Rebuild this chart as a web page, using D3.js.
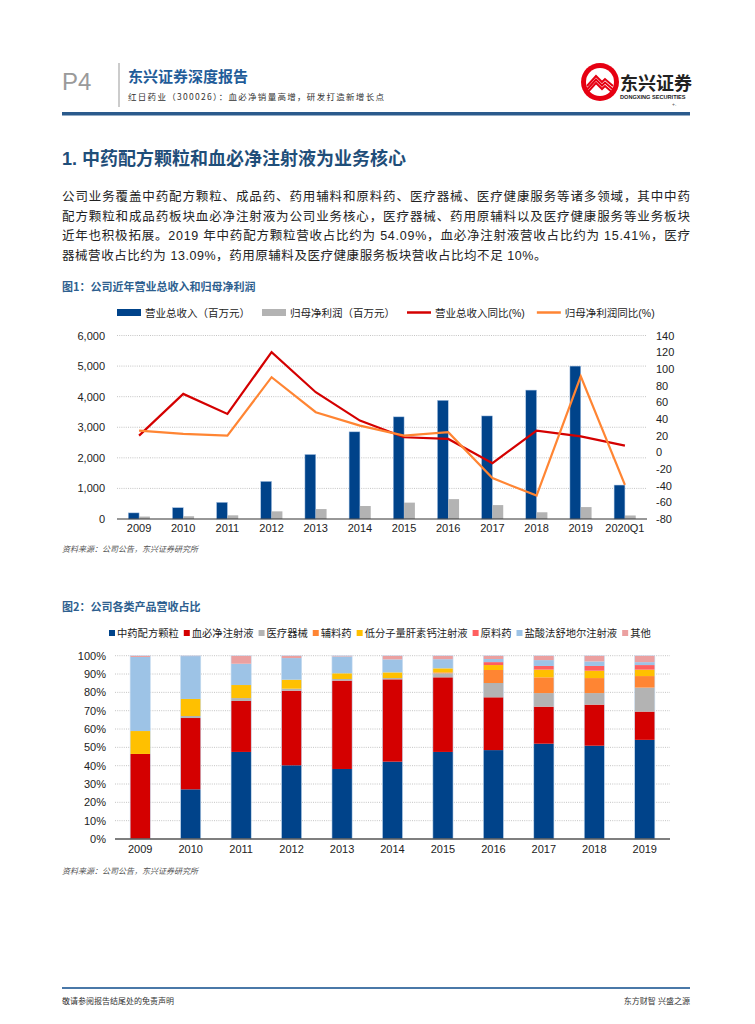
<!DOCTYPE html>
<html>
<head>
<meta charset="utf-8">
<script src="https://cdn.jsdelivr.net/npm/d3@7"></script>
<style>
  body { margin: 0; background: #fff; }
  svg { display: block; font-family: "Liberation Sans", "Noto Sans CJK SC", sans-serif; }
</style>
</head>
<body>
<div id="page"></div>
<script>
// Chart 1 data
const years1 = ['2009', '2010', '2011', '2012', '2013', '2014', '2015', '2016', '2017', '2018', '2019', '2020Q1'];
const revenue = [200, 370, 545, 1230, 2110, 2850, 3340, 3880, 3370, 4215, 5000, 1110];
const profit = [80, 90, 120, 250, 325, 425, 535, 650, 455, 220, 390, 115];
const revenueYoY = [20, 70, 46, 120, 72, 38, 18, 16, -13, 26, 19, 8];
const profitYoY = [26, 22, 20, 90, 48, 32, 20, 24, -31, -52, 91, -39];
const leftTicks = [0, 1000, 2000, 3000, 4000, 5000, 6000];
const rightTicks = [-80, -60, -40, -20, 0, 20, 40, 60, 80, 100, 120, 140];

// Chart 2 data (share of revenue, %)
const years2 = ['2009', '2010', '2011', '2012', '2013', '2014', '2015', '2016', '2017', '2018', '2019'];
const productNames = ['中药配方颗粒', '血必净注射液', '医疗器械', '辅料药', '低分子量肝素钙注射液', '原料药', '盐酸法舒地尔注射液', '其他'];
const tcmGranule = [0, 27.1, 47.5, 40.2, 38.2, 42.2, 47.5, 48.5, 52.0, 50.9, 54.09];
const xuebijing = [46.4, 38.9, 27.8, 40.7, 48.2, 44.9, 40.7, 28.8, 20.2, 22.4, 15.41];
const devices = [0, 1.1, 1.6, 1.1, 0.9, 0.7, 2.2, 7.8, 7.4, 6.3, 13.09];
const excipient = [0, 0, 0, 0, 0, 0, 0.5, 7.1, 8.6, 8.2, 6.3];
const heparin = [12.5, 9.3, 7.1, 4.9, 3.1, 3.1, 2.2, 2.7, 4.2, 4.0, 3.5];
const apiDrug = [0, 0, 0, 0, 0, 0, 0, 1.6, 2.0, 2.6, 2.5];
const fasudil = [40.4, 23.4, 11.6, 11.8, 9.2, 7.1, 5.0, 1.7, 3.2, 2.5, 1.6];
const others = [0.7, 0.2, 4.4, 1.3, 0.4, 2.0, 1.9, 1.8, 2.4, 3.1, 3.51];
const pctTicks = [0, 10, 20, 30, 40, 50, 60, 70, 80, 90, 100];

const paraLines = [
  '公司业务覆盖中药配方颗粒、成品药、药用辅料和原料药、医疗器械、医疗健康服务等诸多领域，其中中药',
  '配方颗粒和成品药板块血必净注射液为公司业务核心，医疗器械、药用原辅料以及医疗健康服务等业务板块',
  '近年也积极拓展。2019 年中药配方颗粒营收占比约为 54.09%，血必净注射液营收占比约为 15.41%，医疗',
  '器械营收占比约为 13.09%，药用原辅料及医疗健康服务板块营收占比均不足 10%。'
];

const W = 755, H = 1024;
const navy = '#1f4e79';
const svg = d3.select('#page').append('svg').attr('width', W).attr('height', H);

// ---------- Header ----------
svg.append('text').attr('x', 62).attr('y', 90).attr('font-size', 24)
  .attr('fill', '#9a9a9a').text('P4');
svg.append('line').attr('x1', 119).attr('x2', 119).attr('y1', 63).attr('y2', 107)
  .attr('stroke', '#999').attr('stroke-width', 1);
svg.append('text').attr('x', 128).attr('y', 82).attr('font-size', 15).attr('font-weight', 'bold')
  .attr('fill', '#1f5c99').attr('font-family', 'Noto Sans CJK SC').text('东兴证券深度报告');
svg.append('text').attr('x', 128).attr('y', 100).attr('font-size', 8.5).attr('fill', '#333')
  .attr('letter-spacing', 1.3)
  .attr('font-family', 'Noto Sans CJK SC').text('红日药业（300026）：血必净销量高增，研发打造新增长点');

// logo
const logo = svg.append('g').attr('transform', 'translate(600,82)');
logo.append('circle').attr('r', 19).attr('fill', '#e60012');
logo.append('circle').attr('r', 14).attr('fill', '#fff');
[0, 3.5, 7].forEach(off => {
  logo.append('path')
    .attr('d', `M-13,${4 + off} L-4,${-6 + off} L2,${0 + off} L5,${-3 + off} L13,${4 + off}`)
    .attr('fill', 'none').attr('stroke', '#e60012').attr('stroke-width', 2);
});
svg.append('text').attr('x', 620).attr('y', 90).attr('font-size', 18).attr('font-weight', 'bold')
  .attr('fill', '#222').attr('font-family', 'Noto Sans CJK SC').text('东兴证券');
svg.append('text').attr('x', 620).attr('y', 99).attr('font-size', 5.6).attr('font-weight', 'bold')
  .attr('fill', '#222').text('DONGXING SECURITIES');
svg.append('text').attr('x', 672).attr('y', 106).attr('font-size', 5).attr('fill', '#555').text('+.');

svg.append('rect').attr('x', 62).attr('y', 112).attr('width', 628).attr('height', 3.5).attr('fill', '#2a5a8c');

// ---------- Heading and paragraph ----------
svg.append('text').attr('x', 62).attr('y', 165).attr('font-size', 18).attr('font-weight', 'bold')
  .attr('fill', navy).text('1. 中药配方颗粒和血必净注射液为业务核心');

paraLines.forEach((line, i) => {
  const t = svg.append('text').attr('x', 62).attr('y', 201 + i * 19.6)
    .attr('font-size', 12.5).attr('fill', '#222').text(line);
  if (i < paraLines.length - 1) t.attr('textLength', 628).attr('lengthAdjust', 'spacing');
  else t.attr('letter-spacing', 0.55);
});

// ---------- Chart 1 ----------
svg.append('text').attr('x', 62).attr('y', 291).attr('font-size', 11).attr('font-weight', 'bold')
  .attr('fill', '#2e5f8f').attr('font-family', 'Noto Sans CJK SC').text('图1：公司近年营业总收入和归母净利润');

const c1 = { left: 117, right: 647, top: 335.5, bottom: 519 };
const x1 = d3.scaleBand().domain(years1).range([c1.left, c1.right]);
const yL = d3.scaleLinear().domain([0, 6000]).range([c1.bottom, c1.top]);
const yR = d3.scaleLinear().domain([-80, 140]).range([c1.bottom, c1.top]);
const g1 = svg.append('g');

// grid
g1.selectAll('.grid1').data(leftTicks.filter(d => d > 0)).enter().append('line')
  .attr('x1', c1.left).attr('x2', c1.right)
  .attr('y1', d => yL(d)).attr('y2', d => yL(d))
  .attr('stroke', '#b5b5b5').attr('stroke-width', 0.8).attr('stroke-dasharray', '1,1.2');

// left axis labels
g1.selectAll('.ly').data(leftTicks).enter().append('text')
  .attr('x', 105).attr('y', d => yL(d) + 4).attr('text-anchor', 'end')
  .attr('font-size', 11).attr('fill', '#222').text(d => d3.format(',')(d));
// right axis labels
g1.selectAll('.ry').data(rightTicks).enter().append('text')
  .attr('x', 656).attr('y', d => yR(d) + 4)
  .attr('font-size', 11).attr('fill', '#222').text(d => d);

const bw = x1.bandwidth() * 0.245;
g1.selectAll('.rev').data(revenue).enter().append('rect')
  .attr('x', (d, i) => x1(years1[i]) + x1.bandwidth() / 2 - bw)
  .attr('y', d => yL(d)).attr('width', bw).attr('height', d => yL(0) - yL(d))
  .attr('fill', '#00438a').attr('stroke', '#a9c4e4').attr('stroke-width', 0.5);
g1.selectAll('.prof').data(profit).enter().append('rect')
  .attr('x', (d, i) => x1(years1[i]) + x1.bandwidth() / 2)
  .attr('y', d => yL(d)).attr('width', bw).attr('height', d => yL(0) - yL(d))
  .attr('fill', '#b3b3b3');

// baseline
g1.append('line').attr('x1', c1.left).attr('x2', c1.right).attr('y1', yL(0)).attr('y2', yL(0))
  .attr('stroke', '#333').attr('stroke-width', 1.2);

// x labels
g1.selectAll('.xl').data(years1).enter().append('text')
  .attr('x', d => x1(d) + x1.bandwidth() / 2).attr('y', 532).attr('text-anchor', 'middle')
  .attr('font-size', 11).attr('fill', '#222').text(d => d);

const line1 = d3.line().x((d, i) => x1(years1[i]) + x1.bandwidth() / 2).y(d => yR(d));
g1.append('path').datum(revenueYoY).attr('d', line1).attr('fill', 'none')
  .attr('stroke', '#d40000').attr('stroke-width', 2.2);
g1.append('path').datum(profitYoY).attr('d', line1).attr('fill', 'none')
  .attr('stroke', '#ff8533').attr('stroke-width', 2.2);

// legend 1
const legend1 = [
  { name: '营业总收入（百万元）', color: '#00438a', type: 'rect' },
  { name: '归母净利润（百万元）', color: '#b3b3b3', type: 'rect' },
  { name: '营业总收入同比(%)', color: '#d40000', type: 'line' },
  { name: '归母净利润同比(%)', color: '#ff8533', type: 'line' }
];
let lx = 117;
legend1.forEach(item => {
  if (item.type === 'rect') {
    svg.append('rect').attr('x', lx).attr('y', 309).attr('width', 24).attr('height', 7).attr('fill', item.color);
  } else {
    svg.append('line').attr('x1', lx).attr('x2', lx + 24).attr('y1', 312.5).attr('y2', 312.5)
      .attr('stroke', item.color).attr('stroke-width', 2.5);
  }
  const t = svg.append('text').attr('x', lx + 28).attr('y', 316.5).attr('font-size', 10.5)
    .attr('fill', '#222').text(item.name);
  lx += 28 + t.node().getComputedTextLength() + 12;
});

svg.append('text').attr('x', 62).attr('y', 552).attr('font-size', 8).attr('font-style', 'italic')
  .attr('fill', '#555').text('资料来源：公司公告，东兴证券研究所');

// ---------- Chart 2 ----------
svg.append('text').attr('x', 62).attr('y', 611).attr('font-size', 11).attr('font-weight', 'bold')
  .attr('fill', '#2e5f8f').attr('font-family', 'Noto Sans CJK SC').text('图2：公司各类产品营收占比');

const productColors = ['#00438a', '#d40000', '#b3b3b3', '#ff8533', '#ffc000', '#ff5f5f', '#9dc3e6', '#eba0a0'];
const productSeries = [tcmGranule, xuebijing, devices, excipient, heparin, apiDrug, fasudil, others];

// legend 2
let lx2 = 109;
productNames.forEach((name, k) => {
  svg.append('rect').attr('x', lx2).attr('y', 630).attr('width', 6).attr('height', 6).attr('fill', productColors[k]);
  const t = svg.append('text').attr('x', lx2 + 8).attr('y', 637).attr('font-size', 10.3)
    .attr('fill', '#222').text(name);
  lx2 += 8 + t.node().getComputedTextLength() + 5;
});

const c2 = { left: 115, right: 670, top: 655.7, bottom: 839 };
const x2 = d3.scaleBand().domain(years2).range([c2.left, c2.right]);
const y2 = d3.scaleLinear().domain([0, 100]).range([c2.bottom, c2.top]);
const g2 = svg.append('g');

g2.selectAll('.grid2').data(pctTicks.filter(d => d > 0)).enter().append('line')
  .attr('x1', c2.left).attr('x2', c2.right)
  .attr('y1', d => y2(d)).attr('y2', d => y2(d))
  .attr('stroke', '#b5b5b5').attr('stroke-width', 0.8).attr('stroke-dasharray', '1,1.2');

g2.selectAll('.py').data(pctTicks).enter().append('text')
  .attr('x', 106).attr('y', d => y2(d) + 4).attr('text-anchor', 'end')
  .attr('font-size', 11).attr('fill', '#222').text(d => d + '%');

const rows = years2.map((yr, i) => {
  const r = { year: yr };
  productNames.forEach((n, k) => { r[n] = productSeries[k][i]; });
  return r;
});
const stacked = d3.stack().keys(productNames)(rows);
const bw2 = x2.bandwidth() * 0.4;

g2.selectAll('.layer').data(stacked).enter().append('g')
  .attr('fill', (d, k) => productColors[k])
  .selectAll('rect').data(d => d).enter().append('rect')
  .attr('x', d => x2(d.data.year) + x2.bandwidth() / 2 - bw2 / 2)
  .attr('y', d => y2(d[1])).attr('width', bw2)
  .attr('height', d => y2(d[0]) - y2(d[1]));

// light outline around each bar
g2.selectAll('.outline').data(years2).enter().append('rect')
  .attr('x', d => x2(d) + x2.bandwidth() / 2 - bw2 / 2).attr('y', y2(100))
  .attr('width', bw2).attr('height', y2(0) - y2(100))
  .attr('fill', 'none').attr('stroke', '#c9dcf0').attr('stroke-width', 0.6);

g2.append('line').attr('x1', c2.left).attr('x2', c2.right).attr('y1', y2(0)).attr('y2', y2(0))
  .attr('stroke', '#555').attr('stroke-width', 1.5);

g2.selectAll('.xl2').data(years2).enter().append('text')
  .attr('x', d => x2(d) + x2.bandwidth() / 2).attr('y', 853).attr('text-anchor', 'middle')
  .attr('font-size', 11).attr('fill', '#222').text(d => d);

svg.append('text').attr('x', 62).attr('y', 874).attr('font-size', 8).attr('font-style', 'italic')
  .attr('fill', '#555').text('资料来源：公司公告，东兴证券研究所');

// ---------- Footer ----------
svg.append('rect').attr('x', 62).attr('y', 987).attr('width', 628).attr('height', 2).attr('fill', '#4a78a8');
svg.append('text').attr('x', 62).attr('y', 1004).attr('font-size', 8).attr('fill', '#333')
  .text('敬请参阅报告结尾处的免责声明');
svg.append('text').attr('x', 690).attr('y', 1004).attr('font-size', 8).attr('fill', '#333')
  .attr('text-anchor', 'end').text('东方财智 兴盛之源');
</script>
</body>
</html>
